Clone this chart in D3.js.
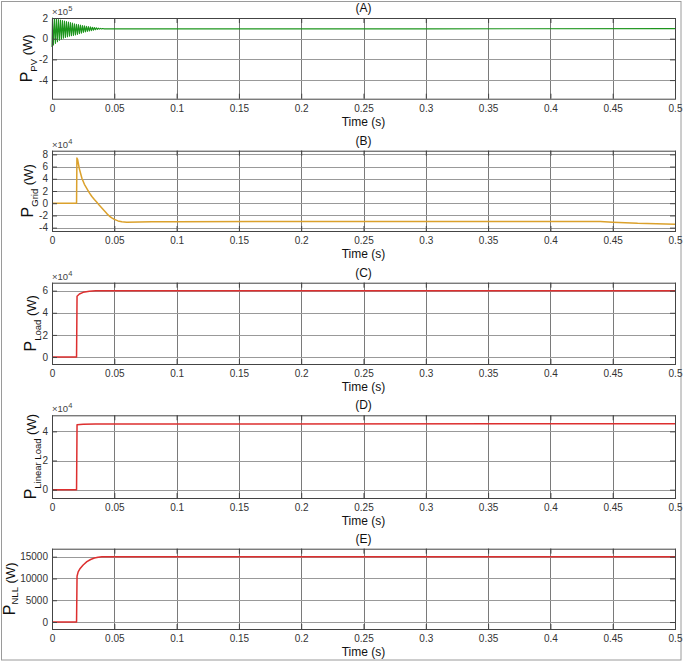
<!DOCTYPE html>
<html>
<head>
    <title>Power waveforms</title>
    <script src="https://d3js.org/d3.v7.min.js"></script>
    <style>
      body { margin: 0; background: #fff; }
      svg { display: block; font-family: "Liberation Sans", Arial, sans-serif; }
    </style>
</head>
<body>
    <div id="chart"></div>
    <script>

// ---- data ----
const timeTicks = [0, 0.05, 0.1, 0.15, 0.2, 0.25, 0.3, 0.35, 0.4, 0.45, 0.5];

// (A) PV power, x10^5 W  -- oscillation peaks
const pvData = [
  [0, -0.8], [0.0004, 2.0], [0.0012, -0.6], [0.002, 1.95], [0.0028, -0.45], [0.0036, 1.9],
  [0.0044, -0.3], [0.0052, 1.85], [0.006, -0.15], [0.0068, 1.8], [0.0076, -0.05], [0.0084, 1.75],
  [0.0092, 0.05], [0.01, 1.7], [0.0108, 0.12], [0.0116, 1.65], [0.0124, 0.18], [0.0132, 1.6],
  [0.014, 0.24], [0.0148, 1.55], [0.0156, 0.28], [0.0164, 1.5], [0.0172, 0.32], [0.018, 1.45],
  [0.0188, 0.36], [0.0196, 1.4], [0.0204, 0.42], [0.0212, 1.36], [0.022, 0.48], [0.0228, 1.32],
  [0.0236, 0.54], [0.0244, 1.28], [0.0252, 0.6], [0.026, 1.24], [0.0268, 0.66], [0.0276, 1.2],
  [0.0284, 0.7], [0.0292, 1.17], [0.03, 0.74], [0.0308, 1.14], [0.0316, 0.78], [0.0324, 1.11],
  [0.0332, 0.82], [0.034, 1.08], [0.0348, 0.86], [0.0356, 1.05], [0.0364, 0.89], [0.0372, 1.02],
  [0.038, 0.92], [0.0388, 1.0], [0.0396, 0.94], [0.0404, 0.98], [0.042, 0.95], [0.1, 0.95],
  [0.3, 0.95], [0.5, 0.97]
];
const pvTicks = [-4, -2, 0, 2];

// (B) grid power, x10^4 W
const gridData = [
  [0, 0], [0.0197, 0], [0.02, 7.4], [0.0205, 7.2], [0.022, 5.6], [0.024, 4.1], [0.026, 3.1],
  [0.028, 2.4], [0.03, 1.7], [0.032, 1.1], [0.034, 0.6], [0.036, 0.15], [0.038, -0.35],
  [0.04, -0.8], [0.042, -1.25], [0.044, -1.7], [0.046, -2.1], [0.048, -2.4], [0.05, -2.65],
  [0.053, -2.9], [0.056, -3.05], [0.06, -3.1], [0.08, -3.05], [0.1, -3.02], [0.2, -3.0],
  [0.3, -3.0], [0.44, -3.0], [0.45, -3.1], [0.47, -3.3], [0.5, -3.45]
];
const gridTicks = [-4, -2, 0, 2, 4, 6, 8];

// (C) load power, x10^4 W
const loadData = [
  [0, 0], [0.0197, 0], [0.0201, 5.5], [0.022, 5.7], [0.025, 5.85], [0.03, 5.95],
  [0.035, 5.99], [0.04, 6.0], [0.5, 6.0]
];
const loadTicks = [0, 2, 4, 6];

// (D) linear load power, x10^4 W
const linData = [
  [0, 0], [0.0197, 0], [0.0201, 4.45], [0.025, 4.48], [0.035, 4.5], [0.5, 4.52]
];
const linTicks = [0, 2, 4];

// (E) non-linear load power, W
const nllData = [
  [0, 0], [0.0197, 0], [0.0201, 10500], [0.021, 11500], [0.0226, 12300], [0.025, 13100],
  [0.028, 13850], [0.031, 14350], [0.034, 14700], [0.037, 14880], [0.04, 14960],
  [0.045, 15000], [0.5, 15000]
];
const nllTicks = [0, 5000, 10000, 15000];

// ---- layout ----
const width = 685, height = 663;
const x0 = 52, x1 = 675;

const panels = [
  { title: "(A)", data: pvData, ticks: pvTicks, domain: [-5.8, 2], top: 18, bottom: 98.7,
    color: "#1c951c", lw: 1.1, exp: "5", sub: "PV", labX: 32, subDy: 5 },
  { title: "(B)", data: gridData, ticks: gridTicks, domain: [-4.55, 8.6], top: 150.7, bottom: 231,
    color: "#dba12c", lw: 1.5, exp: "4", sub: "Grid", labX: 33, subDy: 5 },
  { title: "(C)", data: loadData, ticks: loadTicks, domain: [-0.63, 6.72], top: 282.7, bottom: 364,
    color: "#dd2f2f", lw: 1.5, exp: "4", sub: "Load", labX: 36, subDy: 5 },
  { title: "(D)", data: linData, ticks: linTicks, domain: [-0.57, 5.1], top: 415.3, bottom: 498,
    color: "#dd2f2f", lw: 1.5, exp: "4", sub: "Linear Load", labX: 36, subDy: 5 },
  { title: "(E)", data: nllData, ticks: nllTicks, domain: [-1600, 16830], top: 548.7, bottom: 629,
    color: "#dd2f2f", lw: 1.5, exp: null, sub: "NLL", labX: 15, subDy: 3 }
];

const svg = d3.create("svg")
    .attr("width", width)
    .attr("height", height)
    .attr("viewBox", [0, 0, width, height]);

svg.append("rect")
    .attr("x", 1.5).attr("y", 1.5)
    .attr("width", 679.5).attr("height", 658.5)
    .attr("fill", "#fff")
    .attr("stroke", "#9a9a9a");

const x = d3.scaleLinear().domain([0, 0.5]).range([x0, x1]);

panels.forEach(p => {
  const y = d3.scaleLinear().domain(p.domain).range([p.bottom, p.top]);
  const g = svg.append("g");

  // grid
  g.append("g")
      .attr("stroke", "#7a7a7a")
      .attr("stroke-width", 1)
    .selectAll("line")
    .data(timeTicks.slice(1, -1))
    .join("line")
      .attr("x1", d => Math.round(x(d)) + 0.5).attr("x2", d => Math.round(x(d)) + 0.5)
      .attr("y1", p.top).attr("y2", p.bottom);

  g.append("g")
      .attr("stroke", "#999")
      .attr("stroke-width", 1)
    .selectAll("line")
    .data(p.ticks)
    .join("line")
      .attr("x1", x0).attr("x2", x1)
      .attr("y1", d => Math.round(y(d)) + 0.5).attr("y2", d => Math.round(y(d)) + 0.5);

  // signal
  const line = d3.line().x(d => x(d[0])).y(d => y(d[1]));
  g.append("path")
      .datum(p.data)
      .attr("fill", "none")
      .attr("stroke", p.color)
      .attr("stroke-width", p.lw)
      .attr("stroke-linejoin", "round")
      .attr("d", line);

  // axes (box with inward ticks)
  const xAxis = d3.axisBottom(x).tickValues(timeTicks).tickSizeInner(-5).tickSizeOuter(0)
      .tickPadding(6).tickFormat(d => d === 0 ? "0" : String(+d.toFixed(2)));
  const ax = g.append("g")
      .attr("transform", `translate(0,${p.bottom})`)
      .call(xAxis);
  ax.select(".domain").remove();

  const xt = g.append("g")
      .attr("transform", `translate(0,${p.top})`)
      .call(d3.axisTop(x).tickValues(timeTicks).tickSizeInner(-5).tickSizeOuter(0).tickFormat(""));
  xt.select(".domain").remove();

  const yAxis = d3.axisLeft(y).tickValues(p.ticks).tickSizeInner(-5).tickSizeOuter(0)
      .tickPadding(4).tickFormat(d => String(d));
  const ay = g.append("g")
      .attr("transform", `translate(${x0},0)`)
      .call(yAxis);
  ay.select(".domain").remove();

  const yr = g.append("g")
      .attr("transform", `translate(${x1},0)`)
      .call(d3.axisRight(y).tickValues(p.ticks).tickSizeInner(-5).tickSizeOuter(0).tickFormat(""));
  yr.select(".domain").remove();

  [ax, xt, ay, yr].forEach(a => {
    a.selectAll("line").attr("stroke", "#444");
    a.selectAll("text").attr("fill", "#333").attr("font-size", 10)
      .attr("font-family", "'Liberation Sans', Arial, sans-serif");
  });

  g.append("rect")
      .attr("x", x0 + 0.5).attr("y", p.top + 0.5)
      .attr("width", x1 - x0).attr("height", p.bottom - p.top)
      .attr("fill", "none")
      .attr("stroke", "#444")
      .attr("stroke-width", 1);

  // title
  g.append("text")
      .attr("x", (x0 + x1) / 2)
      .attr("y", p.top - 6)
      .attr("text-anchor", "middle")
      .attr("font-size", 12)
      .attr("fill", "#111")
      .text(p.title);

  // x label
  g.append("text")
      .attr("x", (x0 + x1) / 2)
      .attr("y", p.bottom + 27)
      .attr("text-anchor", "middle")
      .attr("font-size", 12)
      .attr("fill", "#111")
      .text("Time (s)");

  // exponent
  if (p.exp) {
    const e = g.append("text")
        .attr("x", x0)
        .attr("y", p.top - 3)
        .attr("font-size", 9.5)
        .attr("fill", "#444");
    e.append("tspan").text("\u00d710");
    e.append("tspan").attr("dy", -4).attr("font-size", 7.5).text(p.exp);
  }

  // y label
  const yl = g.append("text")
      .attr("transform", `translate(${p.labX},${(p.top + p.bottom) / 2}) rotate(-90)`)
      .attr("text-anchor", "middle")
      .attr("fill", "#111");
  yl.append("tspan").attr("font-size", 16).text("P");
  yl.append("tspan").attr("font-size", 9.5).attr("dy", p.subDy).text(p.sub);
  yl.append("tspan").attr("font-size", 13).attr("dy", -p.subDy).text(" (W)");
});

document.getElementById('chart').appendChild(svg.node());

    </script>
</body>
</html>
